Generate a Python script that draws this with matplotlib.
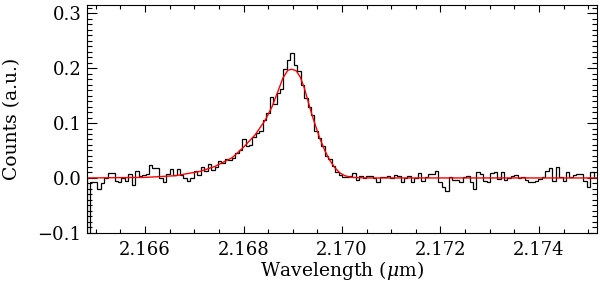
import numpy as np
import matplotlib
matplotlib.use("Agg")
import matplotlib.pyplot as plt
from matplotlib.ticker import MultipleLocator

plt.rcParams['font.family'] = ['DejaVu Serif']
plt.rcParams['mathtext.fontset'] = 'dejavuserif'

# spectrum: regular wavelength bins (start, width) and counts per bin
wave_start = 2.16482
bin_width = 0.00007
counts = [
    -0.12, -0.007, -0.008, -0.02, -0.01, 0.0, 0.009, 0.009, -0.005, -0.008,
    0.0, -0.005, 0.008, -0.012, 0.013, 0.003, 0.006, 0.008, 0.023, 0.018,
    0.018, 0.0, -0.008, 0.008, 0.017, 0.005, 0.016, 0.005, 0.0, -0.006,
    0.0, 0.012, 0.006, 0.02, 0.012, 0.025, 0.015, 0.02, 0.03, 0.028,
    0.035, 0.033, 0.036, 0.045, 0.05, 0.07, 0.058, 0.06, 0.075, 0.082,
    0.086, 0.105, 0.118, 0.147, 0.135, 0.155, 0.162, 0.198, 0.215, 0.228,
    0.206, 0.195, 0.17, 0.145, 0.13, 0.115, 0.085, 0.072, 0.058, 0.04,
    0.034, 0.022, 0.011, 0.005, 0.002, 0.001, 0.003, 0.009, -0.004, 0.004,
    0.0, 0.003, 0.003, 0.0, -0.008, 0.002, 0.002, 0.004, 0.0, 0.005,
    0.004, -0.007, 0.0, 0.004, -0.008, 0.0, 0.009, -0.005, 0.002, 0.008,
    0.008, 0.013, -0.007, -0.016, -0.024, 0.002, -0.003, -0.003, -0.008, 0.002,
    0.004, -0.008, -0.02, 0.011, 0.008, -0.005, -0.007, 0.009, 0.011, -0.002,
    0.011, -0.003, 0.0, 0.003, 0.005, 0.0, 0.002, -0.003, -0.007, -0.008,
    -0.006, -0.002, 0.001, 0.012, 0.018, -0.006, 0.02, 0.002, -0.006, 0.011,
    0.002, 0.005, 0.007, 0.007, -0.006, -0.016, 0.011,
]

# fitted profile (red)
fit_wave = [2.1648, 2.1660, 2.16661, 2.16712, 2.16742, 2.16777, 2.16799, 2.16823,
            2.16844, 2.16858, 2.16870, 2.16880, 2.16890, 2.16898, 2.16907, 2.16915,
            2.16923, 2.16931, 2.16939, 2.16947, 2.16955, 2.16965, 2.16976, 2.16986,
            2.16996, 2.17006, 2.17020, 2.17047, 2.1752]
fit_counts = [0.0, 0.001, 0.004, 0.012, 0.021, 0.037, 0.055, 0.078,
              0.105, 0.13, 0.158, 0.182, 0.196, 0.198, 0.195, 0.184,
              0.165, 0.14, 0.115, 0.093, 0.072, 0.05, 0.031, 0.018,
              0.009, 0.004, 0.001, 0.0, 0.0]

edges = wave_start + bin_width * np.arange(len(counts) + 1)

fig = plt.figure(figsize=(6, 2.9), dpi=100)
ax = fig.add_axes([0.145, 0.197, 0.85, 0.786])

ax.stairs(counts, edges, color='black', linewidth=0.9)
ax.plot(fit_wave, fit_counts, color='red', linewidth=1.0)

ax.set_xlim(2.16482, 2.17518)
ax.set_ylim(-0.1, 0.315)

ax.xaxis.set_major_locator(MultipleLocator(0.002))
ax.xaxis.set_minor_locator(MultipleLocator(0.0005))
ax.yaxis.set_major_locator(MultipleLocator(0.1))
ax.yaxis.set_minor_locator(MultipleLocator(0.01))
ax.xaxis.set_major_formatter(lambda v, p: f'{v:.3f}')
ax.yaxis.set_major_formatter(lambda v, p: f'{v:.1f}'.replace('-', '\u2212'))

ax.tick_params(which='both', direction='in', top=True, right=True, width=0.8,
               labelsize=13)
ax.tick_params(axis='x', which='major', length=5, pad=6)
ax.tick_params(axis='x', which='minor', length=3)
ax.tick_params(axis='y', which='major', length=7, pad=4)
ax.tick_params(axis='y', which='minor', length=3.5)
for s in ax.spines.values():
    s.set_linewidth(0.8)

ax.set_xlabel(r'Wavelength ($\mu$m)', fontsize=13.5, labelpad=0)
ax.set_ylabel('Counts (a.u.)', fontsize=13.5)
ax.yaxis.set_label_coords(-0.13, 0.5)

fig.savefig('out.png', dpi=100)
